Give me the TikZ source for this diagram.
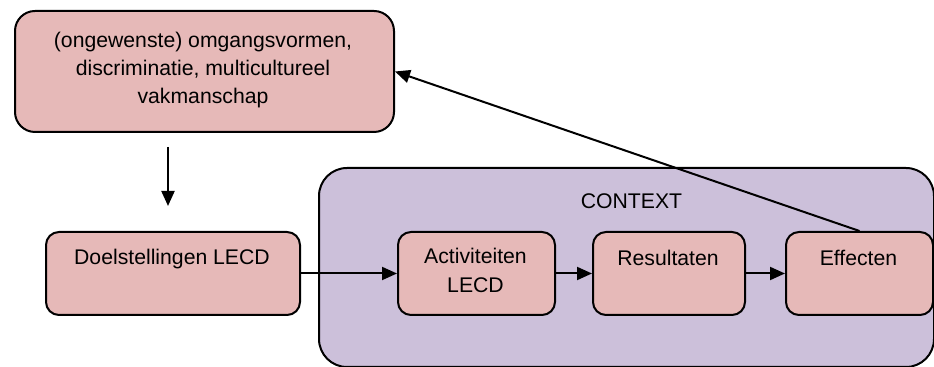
\documentclass[tikz,border=0pt]{standalone}
\usepackage{fontspec}
\setmainfont{Liberation Sans}
\usetikzlibrary{arrows.meta,calc}
\definecolor{boxpink}{RGB}{230,185,184}
\definecolor{ctxpurple}{RGB}{204,192,218}
\begin{document}
\begin{tikzpicture}[x=0.5pt,y=-0.5pt,
  every node/.style={font=\fontsize{10.6pt}{14.2pt}\selectfont},
  pinkbox/.style={draw=black, line width=1pt, fill=boxpink, rounded corners=6.5pt, inner sep=0pt},
  ctxbox/.style={draw=black, line width=1pt, fill=ctxpurple, rounded corners=14pt, inner sep=0pt},
  boxtext/.style={align=center, inner sep=0pt, anchor=base},
  conn/.style={line width=1pt, -{Triangle[length=7.5pt,width=6.5pt]}}]
\useasboundingbox (0,0) rectangle (934,367);
% context background
\node[ctxbox, minimum width=615pt*0.5, minimum height=199pt*0.5, anchor=north west] (ctx) at (318,167) {};
\node[boxtext] (ctxlabel) at (631.5,209) {CONTEXT};
% top box
\node[pinkbox, rounded corners=10pt, minimum width=379pt*0.5, minimum height=121pt*0.5, anchor=north west] (top) at (14,10) {};
\node[boxtext] (toptext) at (203,104) {(ongewenste) omgangsvormen,\\discriminatie, multicultureel\\vakmanschap};
% row of boxes
\node[pinkbox, minimum width=254pt*0.5, minimum height=83pt*0.5, anchor=north west] (doel) at (45,231) {};
\node[boxtext] (doeltext) at (172,265) {Doelstellingen LECD};
\node[pinkbox, minimum width=157pt*0.5, minimum height=83pt*0.5, anchor=north west] (act) at (397,231) {};
\node[boxtext, font=\fontsize{10.6pt}{14.8pt}\selectfont] (acttext) at (475.5,293) {Activiteiten\\LECD};
\node[pinkbox, minimum width=152pt*0.5, minimum height=83pt*0.5, anchor=north west] (res) at (592,231) {};
\node[boxtext] (restext) at (668,266) {Resultaten};
\node[pinkbox, minimum width=147pt*0.5, minimum height=83pt*0.5, anchor=north west] (eff) at (785,231) {};
\node[boxtext] (efftext) at (858.5,266) {Effecten};
% connectors
\coordinate (d1) at (168,147);
\coordinate (d2) at (168,206);
\draw[conn] (d1) -- (d2);
\draw[conn] (doel.east) -- (act.west);
\draw[conn] (act.east) -- (res.west);
\draw[conn] (res.east) -- (eff.west);
\draw[conn] (eff.north) -- (top.east);
\end{tikzpicture}
\end{document}
